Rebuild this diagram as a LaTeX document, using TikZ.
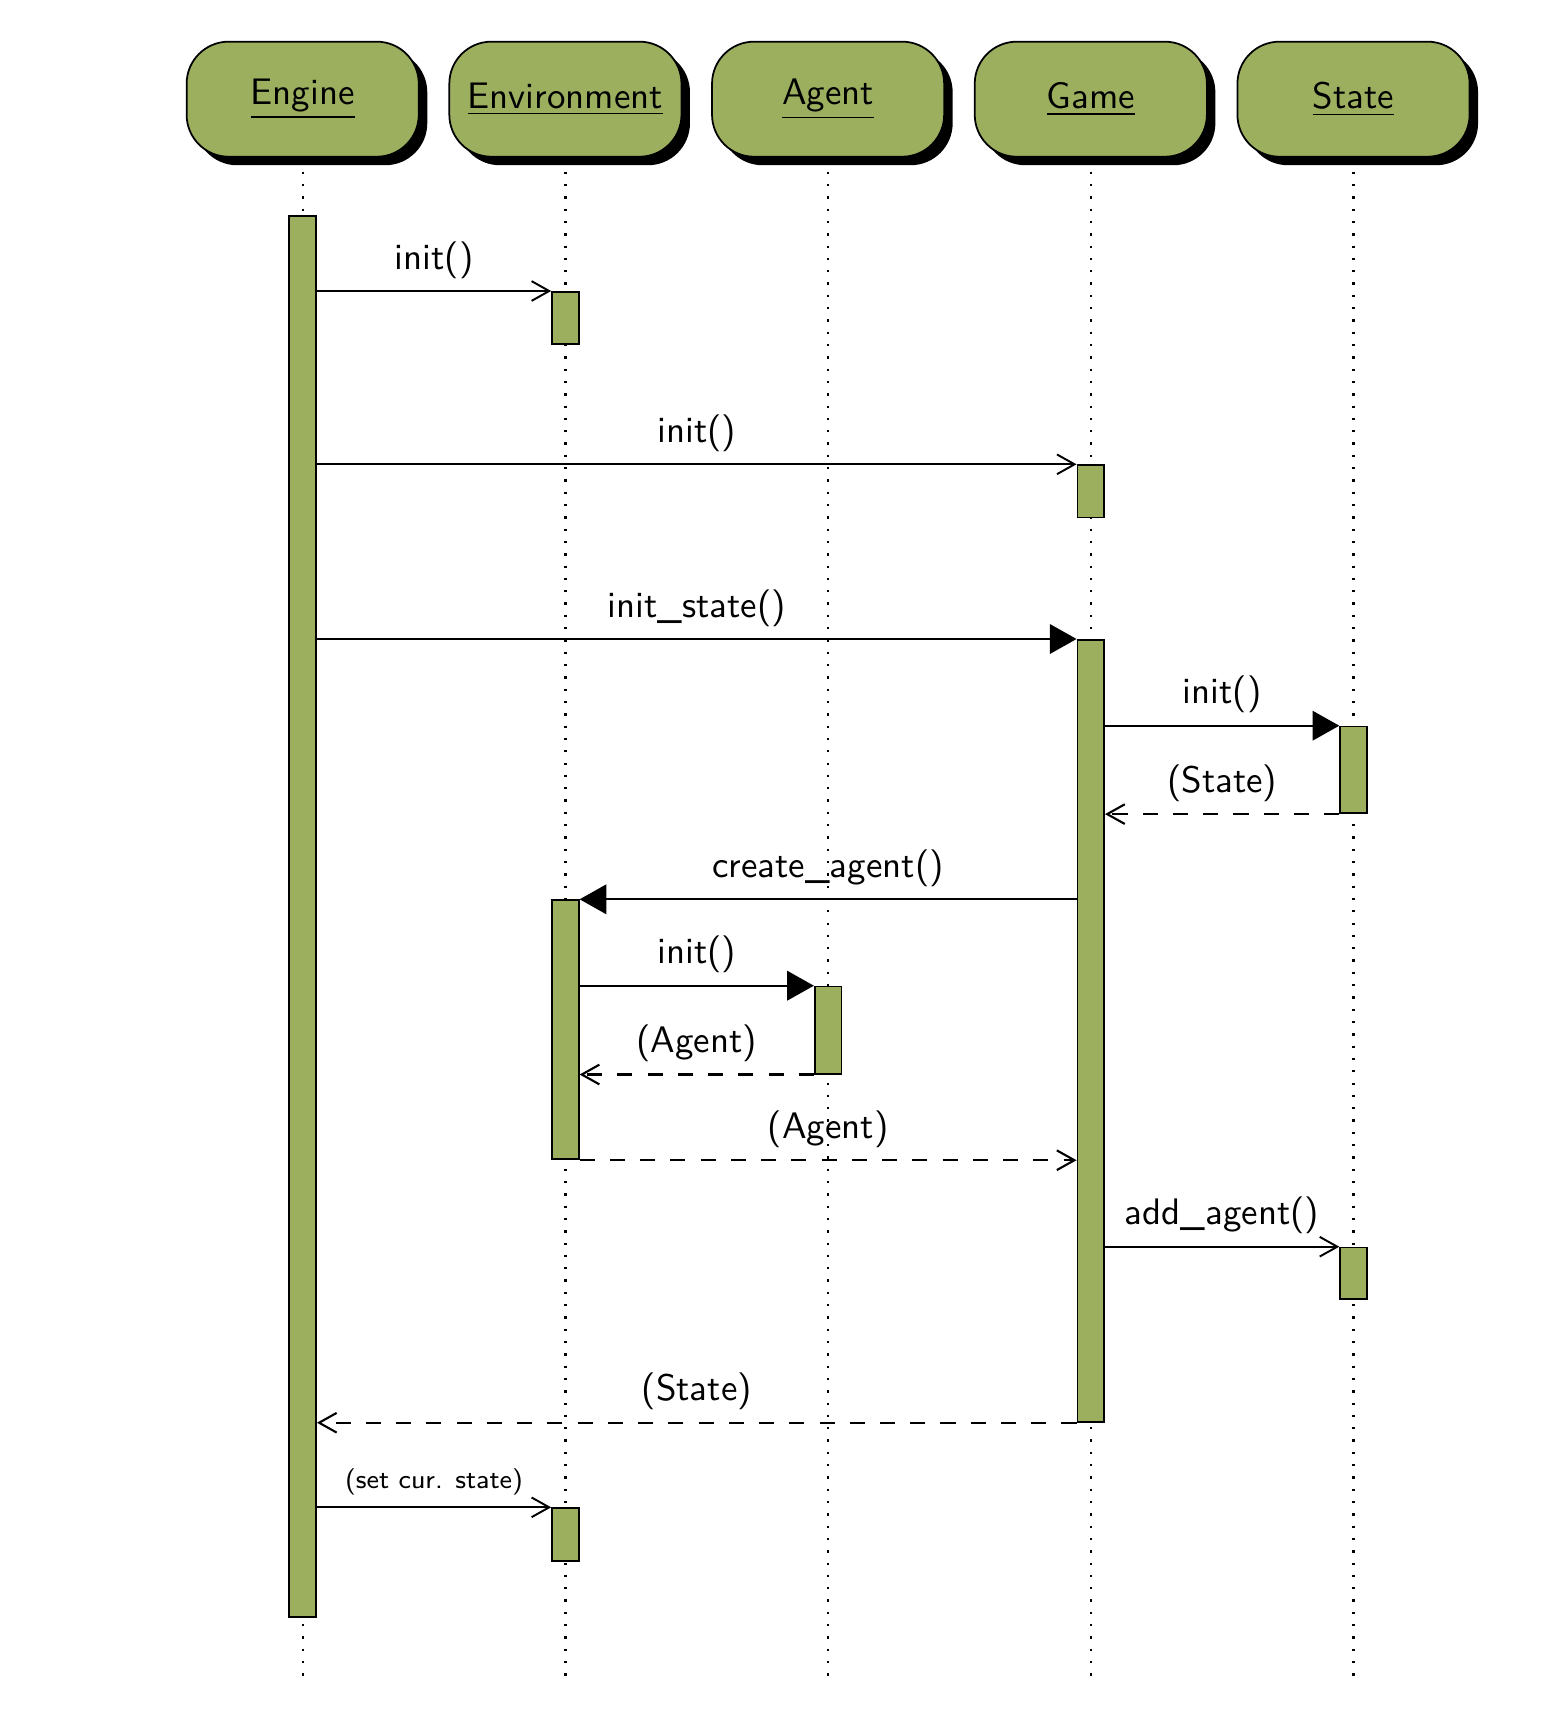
\documentclass[tikz,border=0pt]{standalone}
\usetikzlibrary{arrows.meta}
\definecolor{umlgreen}{RGB}{155,175,95}
\begin{document}
\begin{tikzpicture}[x=0.01cm,y=-0.01cm,
  font=\fontsize{10.5}{12.6}\selectfont\sffamily,
  inst/.style={draw=black,line width=0.5pt,fill=umlgreen,rounded corners=0.42cm,minimum width=2.32cm,minimum height=1.15cm,inner sep=0pt},
  shadowbox/.style={fill=black,rounded corners=0.42cm,minimum width=2.32cm,minimum height=1.15cm,inner sep=0pt},
  life/.style={line width=0.65pt,dash pattern=on 0.65pt off 2.85pt},
  act/.style={draw=black,line width=0.5pt,fill=umlgreen,minimum width=0.267cm,inner sep=0pt,anchor=north},
  call/.style={line width=0.55pt,-{Straight Barb[length=5pt,width=5.6pt]}},
  sync/.style={line width=0.55pt,-{Triangle[length=7.6pt,width=8.4pt]}},
  ret/.style={line width=0.6pt,dash pattern=on 4.3pt off 4.3pt,-{Straight Barb[length=5pt,width=5.6pt]}},
  lbl/.style={midway,above},
  smalllbl/.style={midway,above,font=\fontsize{7.5}{9}\selectfont\sffamily}
]
\useasboundingbox (0,0) rectangle (1543,1724);

% lifelines
\coordinate (engT) at (302.7,171.7);  \coordinate (engE) at (302.7,1676);
\coordinate (envT) at (565.4,171.7);  \coordinate (envE) at (565.4,1676);
\coordinate (agtT) at (828.1,171.7);  \coordinate (agtE) at (828.1,1676);
\coordinate (gamT) at (1090.8,171.7); \coordinate (gamE) at (1090.8,1676);
\coordinate (staT) at (1353.5,171.7); \coordinate (staE) at (1353.5,1676);
\draw[life] (engT) -- (engE);
\draw[life] (envT) -- (envE);
\draw[life] (agtT) -- (agtE);
\draw[life] (gamT) -- (gamE);
\draw[life] (staT) -- (staE);

% header boxes with shadows
\node[shadowbox] (engS) at (311.2,107.7) {};
\node[shadowbox] (envS) at (573.9,107.7) {};
\node[shadowbox] (agtS) at (836.6,107.7) {};
\node[shadowbox] (gamS) at (1099.3,107.7) {};
\node[shadowbox] (staS) at (1362.0,107.7) {};
\node[inst] (eng) at (302.7,99.2) {\underline{Engine}};
\node[inst] (env) at (565.4,99.2) {\underline{Environment}};
\node[inst] (agt) at (828.1,99.2) {\underline{Agent}};
\node[inst] (gam) at (1090.8,99.2) {\underline{Game}};
\node[inst] (sta) at (1353.5,99.2) {\underline{State}};

% activation bars
\node[act,minimum height=14cm] (engA) at (302.7,215) {};
\node[act,minimum height=0.523cm] (envA) at (565.4,291) {};
\node[act,minimum height=0.524cm] (gamA) at (1090.8,464.3) {};
\node[act,minimum height=7.815cm] (gamB) at (1090.8,639) {};
\node[act,minimum height=0.866cm] (staA) at (1353.5,725.7) {};
\node[act,minimum height=2.59cm] (envB) at (565.4,899.3) {};
\node[act,minimum height=0.87cm] (agtA) at (828.1,985.7) {};
\node[act,minimum height=0.516cm] (staB) at (1353.5,1246.7) {};
\node[act,minimum height=0.527cm] (envC) at (565.4,1507.3) {};

% messages
\draw[call] (engA.east |- envA.north) -- (envA.north west) node[lbl] {init()};
\draw[call] (engA.east |- gamA.north) -- (gamA.north west) node[lbl] {init()};
\draw[sync] (engA.east |- gamB.north) -- (gamB.north west) node[lbl] {init\_state()};
\draw[sync] (gamB.east |- staA.north) -- (staA.north west) node[lbl] {init()};
\draw[ret] (staA.south west) -- (gamB.east |- staA.south) node[lbl] {(State)};
\draw[sync] (gamB.west |- envB.north) -- (envB.north east) node[lbl] {create\_agent()};
\draw[sync] (envB.east |- agtA.north) -- (agtA.north west) node[lbl] {init()};
\draw[ret] (agtA.south west) -- (envB.east |- agtA.south) node[lbl] {(Agent)};
\draw[ret] (envB.south east) -- (gamB.west |- envB.south) node[lbl] {(Agent)};
\draw[call] (gamB.east |- staB.north) -- (staB.north west) node[lbl] {add\_agent()};
\draw[ret] (gamB.south west) -- (engA.east |- gamB.south) node[lbl] {(State)};
\draw[call] (engA.east |- envC.north) -- (envC.north west) node[smalllbl] {(set cur. state)};
\end{tikzpicture}
\end{document}
